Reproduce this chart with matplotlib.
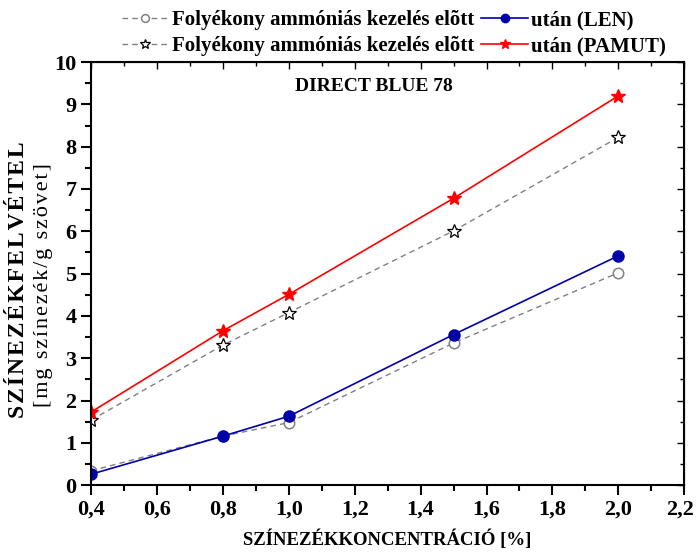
import matplotlib.pyplot as plt
import matplotlib.transforms as mtransforms
from matplotlib.ticker import MultipleLocator, FuncFormatter

plt.rcParams['font.family'] = ['Liberation Serif', 'DejaVu Serif']

conc = [0.4, 0.8, 1.0, 1.5, 2.0]
len_before = [0.34, 1.16, 1.48, 3.36, 5.02]
len_after = [0.26, 1.16, 1.63, 3.56, 5.42]
pamut_before = [1.54, 3.31, 4.08, 6.01, 8.22]
pamut_after = [1.73, 3.65, 4.51, 6.78, 9.20]

label_before = 'Folyékony ammóniás kezelés elõtt'
label_len = 'után (LEN)'
label_pamut = 'után (PAMUT)'
ylabel_1 = 'SZÍNEZÉKFELVÉTEL'
ylabel_2 = '[mg színezék/g szövet]'

fig = plt.figure(figsize=(6.96, 5.59), dpi=100)
ax = fig.add_axes([0.131, 0.132, 0.852, 0.757])

l1, = ax.plot(conc, len_before, '--', color='#808080', lw=1, dashes=(4, 3),
              marker='o', ms=7.5, mfc='white', mec='#808080', mew=1.1)
l3, = ax.plot(conc, pamut_before, '--', color='#808080', lw=1, dashes=(4, 3),
              marker='*', ms=10, mfc='white', mec='black', mew=0.9)
l2, = ax.plot(conc, len_after, '-', color='#0000A8', lw=1.2,
              marker='o', ms=8, mfc='#0000A8', mec='#0000A8')
l4, = ax.plot(conc, pamut_after, '-', color='#FF0000', lw=1.2,
              marker='*', ms=10, mfc='#FF0000', mec='#FF0000')

ax.set_xlim(0.4, 2.2)
ax.set_ylim(0, 10)
ax.xaxis.set_major_locator(MultipleLocator(0.2))
ax.xaxis.set_minor_locator(MultipleLocator(0.1))
ax.yaxis.set_major_locator(MultipleLocator(1))
ax.yaxis.set_minor_locator(MultipleLocator(0.5))
ax.xaxis.set_major_formatter(FuncFormatter(lambda v, p: f'{v:.1f}'.replace('.', ',')))

ax.tick_params(which='both', direction='out', width=1.5, labelsize=16, top=False, right=False)
ax.tick_params(which='major', length=7)
ax.tick_params(which='minor', length=4)
for lab in ax.get_xticklabels() + ax.get_yticklabels():
    lab.set_fontweight('bold')
for s in ax.spines.values():
    s.set_linewidth(1.5)

# keep the last x label ("2,2") inside the canvas
fig.canvas.draw()
last = [t for t in ax.get_xticklabels() if t.get_text() == '2,2']
for t in last:
    t.set_transform(t.get_transform() + mtransforms.ScaledTranslation(-3 / 72, 0, fig.dpi_scale_trans))

# inward ticks on top and right spines
sec_x = ax.secondary_xaxis('top')
sec_x.xaxis.set_major_locator(MultipleLocator(0.2))
sec_x.xaxis.set_minor_locator(MultipleLocator(0.1))
sec_x.tick_params(which='both', direction='in', labeltop=False, width=1)
sec_x.tick_params(which='major', length=5)
sec_x.tick_params(which='minor', length=3)
sec_y = ax.secondary_yaxis('right')
sec_y.yaxis.set_major_locator(MultipleLocator(1))
sec_y.yaxis.set_minor_locator(MultipleLocator(0.5))
sec_y.tick_params(which='both', direction='in', labelright=False, width=1)
sec_y.tick_params(which='major', length=5)
sec_y.tick_params(which='minor', length=3)

ax.set_xlabel('SZÍNEZÉKKONCENTRÁCIÓ [%]', fontsize=13.5, fontweight='bold', labelpad=7)
# letter-spaced y label, as in the original
fig.text(0.026, 0.50, '\u200a'.join(ylabel_1), rotation=90, fontsize=17,
         fontweight='bold', ha='center', va='center')
fig.text(0.062, 0.49, '\u200a'.join(ylabel_2), rotation=90, fontsize=16,
         ha='center', va='center')

ax.text(0.344, 0.943, 'DIRECT BLUE 78', transform=ax.transAxes, fontsize=14,
        fontweight='bold', va='center')

leg = fig.legend([l1, l3, l2, l4], [label_before, label_before, label_len, label_pamut],
                 ncol=2, loc='upper center', bbox_to_anchor=(0.566, 1.015),
                 frameon=False, handlelength=2.25, handletextpad=0.15,
                 columnspacing=0.35, labelspacing=0.28, markerscale=0.75,
                 prop={'weight': 'bold', 'size': 15})

fig.savefig('out.png', dpi=100)
